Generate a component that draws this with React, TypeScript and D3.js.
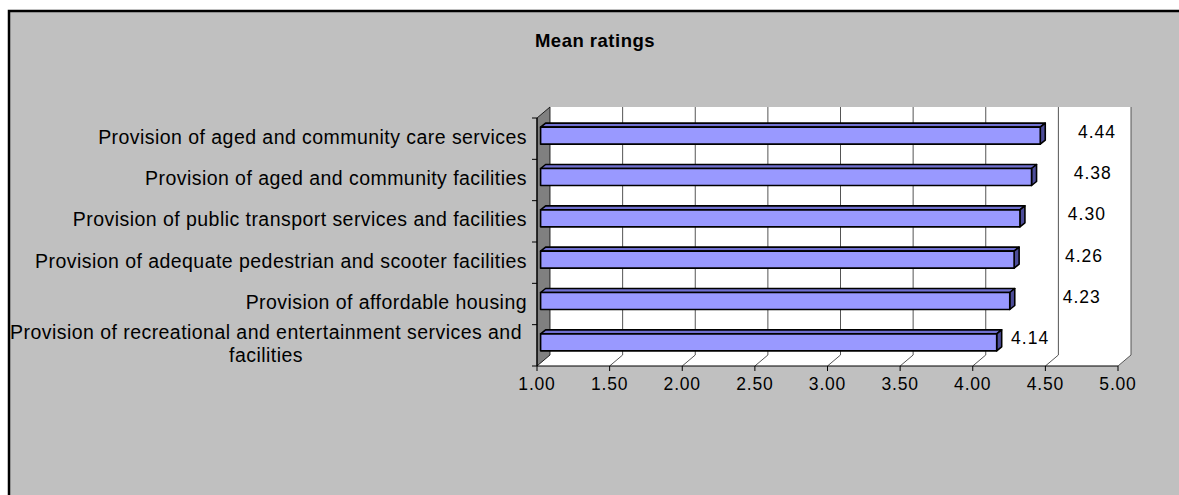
import React from "react";
import * as d3 from "d3";

const categories = [
  "Provision of aged and community care services",
  "Provision of aged and community facilities",
  "Provision of public transport services and facilities",
  "Provision of adequate pedestrian and scooter facilities",
  "Provision of affordable housing",
  "Provision of recreational and entertainment services and facilities",
];
const values = [4.44, 4.38, 4.3, 4.26, 4.23, 4.14];
const tickValues = [1.0, 1.5, 2.0, 2.5, 3.0, 3.5, 4.0, 4.5, 5.0];
const title = "Mean ratings";

const W = 1179;
const H = 495;
const FONT = "'Liberation Sans', Arial, sans-serif";

function wrap(label: string, maxChars: number): string[] {
  if (label.length <= maxChars) return [label];
  const words = label.split(" ");
  const lines: string[] = [];
  let cur = "";
  for (const w of words) {
    const next = cur ? cur + " " + w : w;
    if (next.length > maxChars && cur) {
      lines.push(cur);
      cur = w;
    } else cur = next;
  }
  if (cur) lines.push(cur);
  return lines;
}

export default function App() {
  const left = 537;
  const right = 1118;
  const top = 118;
  const bottom = 366;
  const DX = 13;
  const DY = -11;

  const x = d3.scaleLinear().domain([1, 5]).range([left, right]);
  const y = d3.scaleBand<string>().domain(categories).range([top, bottom]);

  const barH = 17;
  const bdx = 5;
  const bdy = -4;
  const ox = 3.6;
  const oy = -3;

  const pts = (a: [number, number][]) => a.map((p) => p.join(",")).join(" ");

  return (
    <svg
      width={W}
      height={H}
      style={{ position: "absolute", left: 0, top: 0, background: "#fff" }}
    >
      <rect x={9} y={11} width={1300} height={700} fill="#C0C0C0" stroke="#000" strokeWidth={2.5} />
      <text x={595} y={47} textAnchor="middle" fontFamily={FONT} fontWeight="bold" fontSize={18.5} letterSpacing={0.5}>
        {title}
      </text>

      {/* back wall */}
      <rect x={left + DX} y={top + DY} width={right - left} height={bottom - top} fill="#fff" />
      {/* floor */}
      <polygon
        points={pts([
          [left, bottom],
          [left + DX, bottom + DY],
          [right + DX, bottom + DY],
          [right, bottom],
        ])}
        fill="#fff"
      />
      {/* side wall */}
      <polygon
        points={pts([
          [left, top],
          [left + DX, top + DY],
          [left + DX, bottom + DY],
          [left, bottom],
        ])}
        fill="#808080"
        stroke="#000"
        strokeWidth={0.8}
      />
      {/* grid lines */}
      {tickValues.slice(1).map((t) => (
        <g key={"g" + t}>
          <line x1={x(t) + DX} x2={x(t) + DX} y1={top + DY} y2={bottom + DY} stroke="#555" strokeWidth={1} />
          <line x1={x(t)} x2={x(t) + DX} y1={bottom} y2={bottom + DY} stroke="#555" strokeWidth={1} />
        </g>
      ))}
      {/* axes */}
      <line x1={left} x2={right} y1={bottom} y2={bottom} stroke="#000" strokeWidth={1.2} />
      <line x1={left} x2={left} y1={top} y2={bottom} stroke="#000" strokeWidth={1.2} />
      {tickValues.map((t) => (
        <g key={"t" + t}>
          <line x1={x(t)} x2={x(t)} y1={bottom} y2={bottom + 5} stroke="#000" />
          <text x={x(t)} y={bottom + 24} textAnchor="middle" fontFamily={FONT} fontSize={17.5} letterSpacing={0.8}>
            {t.toFixed(2)}
          </text>
        </g>
      ))}
      {[...categories.map((c) => y(c) as number), bottom].map((yy, i) => (
        <line key={"yt" + i} x1={left - 5} x2={left} y1={yy} y2={yy} stroke="#000" />
      ))}

      {/* category labels */}
      {categories.map((c) => {
        const lines = wrap(c, 56);
        const cy = (y(c) as number) + y.bandwidth() / 2 - 2;
        const lh = 23;
        const multi = lines.length > 1;
        const blockW = multi ? 522 : 0;
        const tx = multi ? 527 - blockW / 2 : 527;
        return (
          <text
            key={c}
            x={tx}
            textAnchor={multi ? "middle" : "end"}
            fontFamily={FONT}
            fontSize={19.5}
            letterSpacing={0.45}
          >
            {lines.map((l, i) => (
              <tspan key={i} x={tx} y={cy + (i - (lines.length - 1) / 2) * lh + 7}>
                {l}
              </tspan>
            ))}
          </text>
        );
      })}

      {/* bars */}
      {categories.map((c, i) => {
        const v = values[i];
        const cy = (y(c) as number) + y.bandwidth() / 2 + oy;
        const x0 = x(1) + ox;
        const x1 = x(v) + ox;
        const y0 = cy - barH / 2;
        const y1 = cy + barH / 2;
        return (
          <g key={"b" + c} stroke="#000" strokeWidth={1.6} strokeLinejoin="round">
            <polygon
              points={pts([
                [x0, y0],
                [x0 + bdx, y0 + bdy],
                [x1 + bdx, y0 + bdy],
                [x1, y0],
              ])}
              fill="#7070D0"
            />
            <polygon
              points={pts([
                [x1, y0],
                [x1 + bdx, y0 + bdy],
                [x1 + bdx, y1 + bdy],
                [x1, y1],
              ])}
              fill="#4D4D99"
            />
            <rect x={x0} y={y0} width={x1 - x0} height={barH} fill="#9999FF" />
          </g>
        );
      })}

      {/* value labels */}
      {categories.map((c, i) => {
        const v = values[i];
        const cy = (y(c) as number) + y.bandwidth() / 2 + oy - 5;
        const last = i === categories.length - 1;
        const lx = last ? x(v) + 18 : (x(v) + x(4.5)) / 2 + 37;
        return (
          <text key={"v" + c} x={lx} y={cy + 7} fontFamily={FONT} fontSize={17.5} letterSpacing={1}>
            {v.toFixed(2)}
          </text>
        );
      })}
    </svg>
  );
}
